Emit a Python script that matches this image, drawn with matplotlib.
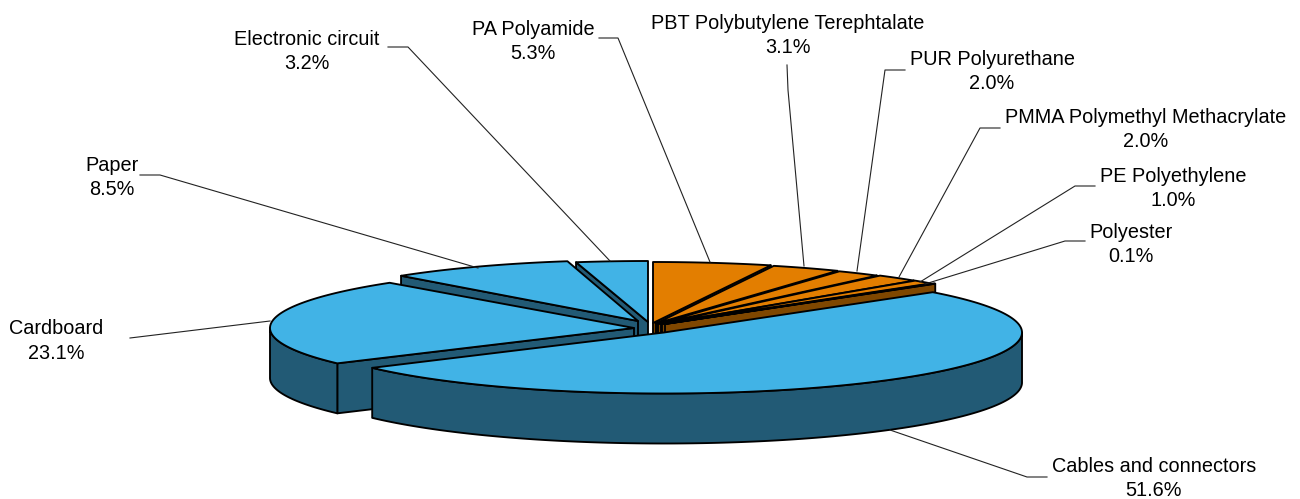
#!/usr/bin/env python3
import numpy as np
import matplotlib
matplotlib.use('Agg')
import matplotlib.pyplot as plt
from matplotlib.patches import Polygon

plt.rcParams['font.family'] = ['Liberation Sans', 'DejaVu Sans']

# clockwise from 12 o'clock
categories = ['PA Polyamide', 'PBT Polybutylene Terephtalate', 'PUR Polyurethane',
              'PMMA Polymethyl Methacrylate', 'PE Polyethylene', 'Polyester',
              'Cables and connectors', 'Cardboard', 'Paper', 'Electronic circuit']
values = [5.3, 3.1, 2.0, 2.0, 1.0, 0.1, 51.6, 23.1, 8.5, 3.2]

ORANGE, ORANGE_DK = '#E37E00', '#7F4700'
BLUE, BLUE_DK = '#41B3E6', '#225A75'
top_colors = [ORANGE] * 6 + [BLUE] * 4
side_colors = [ORANGE_DK] * 6 + [BLUE_DK] * 4

# pie geometry in pixels
CX, CY = 650, 323
RY, DEPTH = 61, 50
radius = [360, 360, 360, 360, 360, 360, 358, 364, 353, 360]
# how far each slice is pulled out
shift_x = [3, 6, 8, 11, 12, 15, 14, -16, -12, -2]
shift_y = [0, 0.5, 1, 1, 1, 1, 9.5, 5, -2, -1]

# label position (centre of the text) and leader line per category
label_xy = [(533, 41.5), (788, 35.5), (992, 71.5), (1146, 129.5), (1173, 188.5), (1131, 244.5),
            (1154, 478.5), (56, 341), (112, 177.5), (307, 51.5)]
leaders = [[(599, 38), (618, 38), (710, 262)],
           [(787, 65), (788, 90), (804, 266)],
           [(905, 70), (885, 70), (857, 271)],
           [(1000, 128), (980, 128), (899, 277)],
           [(1095, 186), (1075, 186), (920, 282)],
           [(1085, 241), (1065, 241), (925, 284)],
           [(1047, 477), (1027, 477), (890, 430)],
           [(130, 338), (270, 321)],
           [(140, 175), (160, 175), (478, 268)],
           [(388, 47), (408, 47), (610, 261)]]

edges = np.concatenate([[0], np.cumsum(values)]) / np.sum(values) * 360


def arc(ax0, ay0, rx, a0, a1):
    t = np.radians(np.linspace(a0, a1, max(int(abs(a1 - a0)) * 2, 2) + 1))
    return np.column_stack([ax0 + rx * np.sin(t), ay0 - RY * np.cos(t)])


def draw(pts, color, z):
    ax.add_patch(Polygon(pts, closed=True, facecolor=color, edgecolor='black',
                         linewidth=1.35, joinstyle='round', zorder=z))


fig = plt.figure(figsize=(13, 4.99), dpi=100)
ax = fig.add_axes([0, 0, 1, 1])
ax.set_xlim(0, 1300)
ax.set_ylim(499, 0)
ax.axis('off')

# back to front: orange, then electronic/paper/cardboard, cables last
order = [0, 1, 2, 3, 4, 5, 9, 8, 7, 6]
for z, i in enumerate(order):
    a0, a1 = edges[i], edges[i + 1]
    x0, y0 = CX + shift_x[i], CY + shift_y[i]
    r = radius[i]
    base = z * 10 + 2
    down = np.array([0, DEPTH])
    apex = np.array([x0, y0])
    # cut faces that look towards the viewer
    if a1 <= 180:
        e = arc(x0, y0, r, a1, a1)[0]
        draw([apex, e, e + down, apex + down], side_colors[i], base)
    if a0 >= 180:
        e = arc(x0, y0, r, a0, a0)[0]
        draw([apex, e, e + down, apex + down], side_colors[i], base)
    # outer wall, front half only
    lo, hi = max(a0, 90), min(a1, 270)
    if hi > lo:
        rim = arc(x0, y0, r, lo, hi)
        draw(np.vstack([rim, rim[::-1] + down]), side_colors[i], base + 1)
    # top
    draw(np.vstack([apex, arc(x0, y0, r, a0, a1)]), top_colors[i], base + 2)

for name, v, (lx, ly), pts in zip(categories, values, label_xy, leaders):
    ax.text(lx, ly, f'{name}\n{v:.1f}%', ha='center', va='center', fontsize=14.3,
            linespacing=1.34, color='black', zorder=200)
    p = np.array(pts)
    ax.plot(p[:, 0], p[:, 1], color='#222222', lw=0.8, zorder=150)

fig.savefig('out.png', dpi=100)
